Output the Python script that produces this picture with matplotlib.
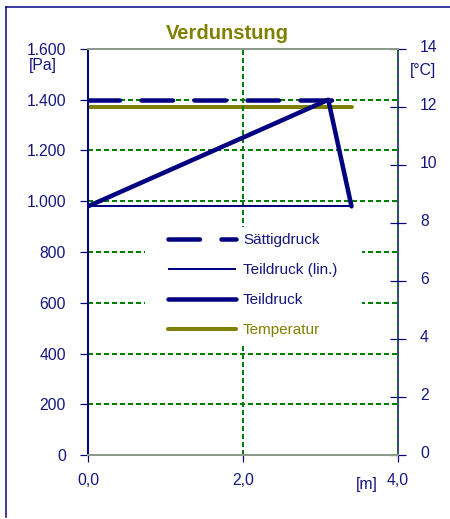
import matplotlib
matplotlib.use("Agg")
import matplotlib.pyplot as plt
from matplotlib.lines import Line2D
from matplotlib.patches import Rectangle
from matplotlib.transforms import ScaledTranslation

plt.rcParams["font.family"] = ["Liberation Sans", "DejaVu Sans"]
plt.rcParams["lines.scale_dashes"] = False

# --- data -----------------------------------------------------------------
sat_x = [0.0, 3.4]
sat_pa = [1400, 1400]
lin_x = [0.0, 3.4]
lin_pa = [980, 980]
part_x = [0.0, 3.1, 3.4]
part_pa = [980, 1400, 980]
temp_x = [0.0, 3.4]
temp_c = [12, 12]

pa_ticks = [0, 200, 400, 600, 800, 1000, 1200, 1400, 1600]
pa_labels = ["0", "200", "400", "600", "800", "1.000", "1.200", "1.400", "1.600"]
c_ticks = [0, 2, 4, 6, 8, 10, 12, 14]
c_labels = ["0", "2", "4", "6", "8", "10", "12", "14"]
m_ticks = [0.0, 2.0, 4.0]
m_labels = ["0,0", "2,0", "4,0"]
series_names = ["Sättigdruck", "Teildruck (lin.)", "Teildruck", "Temperatur"]

# --- styling --------------------------------------------------------------
NAVY = "#000080"
TXT = "#15157f"
OLIVE = "#808000"
GREEN = "#008000"
FRAME_GREY = "#8c9a8c"
PX = 0.72  # points per pixel at 100 dpi

W, H = 450, 519
fig = plt.figure(figsize=(W / 100, H / 100), dpi=100)
ax = fig.add_axes([88 / W, 64 / H, 310 / W, 406 / H])
ax2 = ax.twinx()
ax.set_zorder(ax2.get_zorder() + 1)
ax.patch.set_visible(False)

ax.set_xlim(0, 4)
ax.set_ylim(0, 1600)
ax2.set_ylim(0, 14)

# grid
ax.set_axisbelow(True)
ax.set_xticks(m_ticks)
ax.set_yticks(pa_ticks)
ax.grid(True, color=GREEN, linewidth=2 * PX, linestyle=(0, (5 * PX, 3 * PX)))

# series
sat_line, = ax.plot(sat_x, sat_pa, color=NAVY, linewidth=4.5 * PX,
                    linestyle=(0, (31.5 * PX, 21.5 * PX)),
                    dash_capstyle="round", solid_capstyle="round", zorder=3)
lin_line, = ax.plot(lin_x, lin_pa, color=NAVY, linewidth=2 * PX,
                    solid_capstyle="butt", zorder=3)
part_line, = ax.plot(part_x, part_pa, color=NAVY, linewidth=4.5 * PX,
                     solid_capstyle="round", solid_joinstyle="round", zorder=4)
temp_line, = ax2.plot(temp_x, temp_c, color=OLIVE, linewidth=4 * PX,
                      solid_capstyle="round", zorder=3)

# spines
for side in ("left", "right"):
    ax.spines[side].set_color(NAVY)
    ax2.spines[side].set_color(NAVY)
ax.spines["left"].set_linewidth(2 * PX)
ax2.spines["right"].set_linewidth(1.5 * PX)
ax.spines["right"].set_visible(False)
ax2.spines["left"].set_visible(False)
for side in ("top", "bottom"):
    ax.spines[side].set_color(FRAME_GREY)
    ax.spines[side].set_linewidth(2 * PX)
    ax2.spines[side].set_visible(False)

# ticks and labels
ax.set_yticklabels(pa_labels)
ax.set_xticklabels(m_labels)
ax.tick_params(axis="y", direction="out", length=8 * PX, width=1.2 * PX,
               color=NAVY, labelcolor=TXT, labelsize=11.3, pad=10)
ax.tick_params(axis="x", direction="out", length=7 * PX, width=1.2 * PX,
               color=NAVY, labelcolor=TXT, labelsize=11.3, pad=8)
ax2.set_yticks(c_ticks)
ax2.set_yticklabels(c_labels)
ax2.tick_params(axis="y", direction="inout", length=16 * PX, width=1.2 * PX,
                color=NAVY, labelcolor=TXT, labelsize=11.3, pad=10)
shift = ScaledTranslation(0, 3 / 100, fig.dpi_scale_trans)
for lbl in ax2.get_yticklabels():
    lbl.set_transform(lbl.get_transform() + shift)

# legend on a white panel
ax.add_patch(Rectangle((57 / 310, 110 / 406), 217 / 310, 118 / 406,
                       transform=ax.transAxes, facecolor="white",
                       edgecolor="none", zorder=2.6))
leg = ax.legend([sat_line, lin_line, part_line, temp_line], series_names,
                loc="upper left", bbox_to_anchor=(80 / 310, 222 / 406),
                frameon=False, fontsize=11, handlelength=4.45,
                handletextpad=0.45, labelspacing=1.05, borderpad=0,
                borderaxespad=0,
                labelcolor=[TXT, TXT, TXT, OLIVE])
leg.set_zorder(5)

# title and unit captions
fig.text(227 / W, 1 - 39 / H, "Verdunstung", ha="center", va="baseline",
         fontsize=14.5, fontweight="bold", color=OLIVE)
fig.text(43 / W, 1 - 70 / H, "[Pa]", ha="center", va="baseline",
         fontsize=11.3, color=TXT)
fig.text(423 / W, 1 - 75 / H, "[°C]", ha="center", va="baseline",
         fontsize=11.3, color=TXT)
fig.text(367 / W, 1 - 489 / H, "[m]", ha="center", va="baseline",
         fontsize=11.3, color=TXT)

# outer frame
fig.add_artist(Line2D([6 / W, 1.0], [1 - 7 / H, 1 - 7 / H],
                      transform=fig.transFigure, color=NAVY, linewidth=1.5 * PX))
fig.add_artist(Line2D([6 / W, 6 / W], [1 - 7 / H, 1 - 517 / H],
                      transform=fig.transFigure, color=NAVY, linewidth=1.5 * PX))

fig.savefig("out.png", dpi=100, facecolor="white")
